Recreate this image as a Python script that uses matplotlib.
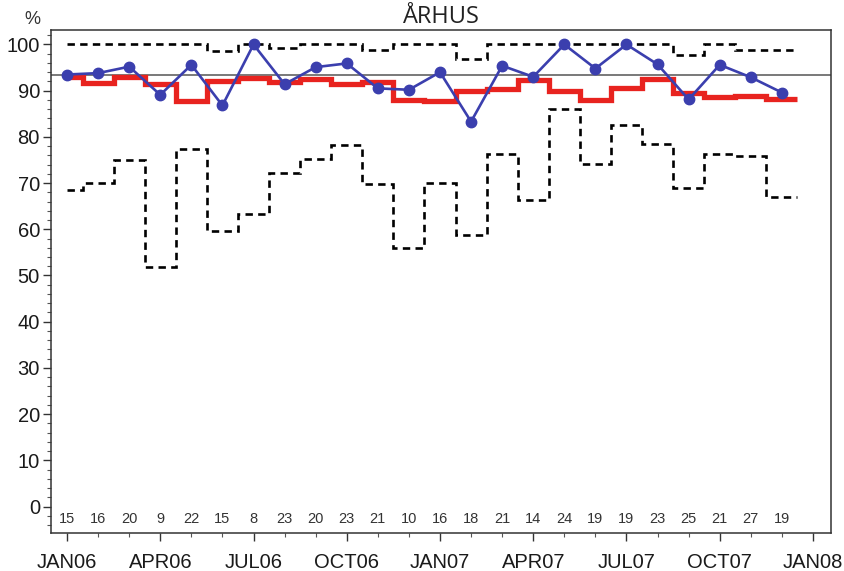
## Monthly percentage chart for ARHUS, with limits and patient counts
import numpy as np
import matplotlib.pyplot as plt
from matplotlib.ticker import MultipleLocator

## Data (month index 0 = JAN06)
months = np.arange(24)
observed = [93.5, 93.8, 95.2, 89.1, 95.6, 86.8, 100.0, 91.4, 95.1, 95.9, 90.5, 90.2,
            94.0, 83.3, 95.4, 93.0, 100.0, 94.8, 100.0, 95.7, 88.1, 95.6, 92.9, 89.6]
expected = [93.0, 91.6, 93.0, 91.4, 87.8, 92.1, 92.7, 91.9, 92.5, 91.4, 91.9, 88.0,
            87.7, 90.0, 90.3, 92.3, 89.9, 88.0, 90.5, 92.5, 89.6, 88.6, 88.9, 88.1]
upper = [100, 100, 100, 100, 100, 98.6, 100, 99.2, 100, 100, 98.9, 100,
         100, 96.8, 100, 100, 100, 100, 100, 100, 97.8, 100, 98.9, 98.9]
lower = [68.4, 70.1, 75.1, 51.9, 77.3, 59.7, 63.3, 72.1, 75.3, 78.2, 69.8, 55.9,
         70.0, 58.8, 76.4, 66.3, 86.0, 74.1, 82.6, 78.5, 68.9, 76.4, 75.8, 66.9]
counts = [15, 16, 20, 9, 22, 15, 8, 23, 20, 23, 21, 10,
          16, 18, 21, 14, 24, 19, 19, 23, 25, 21, 27, 19]
overall = 93.5
tick_labels = ['JAN06', 'APR06', 'JUL06', 'OCT06', 'JAN07',
               'APR07', 'JUL07', 'OCT07', 'JAN08']

plt.rcParams['font.family'] = ['Liberation Sans Narrow', 'Liberation Sans']

fig = plt.figure(figsize=(8.45, 5.71), dpi=100)
ax = fig.add_axes([0.0604, 0.0657, 0.923, 0.8818])

# step edges half way between months
edges = np.concatenate([[months[0]], months[:-1] + 0.5, [months[-1] + 0.5]])

ax.axhline(overall, color='#6e6e6e', lw=1.3, zorder=1)
ax.stairs(upper, edges, color='black', lw=1.9, ls=(0, (2.8, 2.0)), baseline=None, zorder=2)
ax.stairs(lower, edges, color='black', lw=1.9, ls=(0, (2.8, 2.0)), baseline=None, zorder=2)
ax.stairs(expected, edges, color='#e8231f', lw=3.8, baseline=None, zorder=3)
ax.plot(months, observed, color='#3b3fae', lw=1.9, marker='o', ms=7.5, zorder=4)

for m, c in zip(months, counts):
    ax.text(m, -2.7, str(c), ha='center', va='center', fontsize=10.5, color='#333333')

ax.set_xlim(-0.515, 24.58)
ax.set_ylim(-5.84, 103.14)

ax.set_xticks(np.arange(0, 25, 3))
ax.set_xticklabels(tick_labels, fontsize=14.5, color='#1a1a1a')
ax.xaxis.set_minor_locator(MultipleLocator(1))
ax.yaxis.set_major_locator(MultipleLocator(10))
ax.yaxis.set_minor_locator(MultipleLocator(2))
ax.tick_params(axis='y', labelsize=14.5, labelcolor='#1a1a1a', length=6, width=1,
               color='#333333', pad=2)
ax.tick_params(axis='x', length=6, width=1, color='#333333', pad=8)
ax.tick_params(which='minor', length=3, width=0.8, color='#555555')
for s in ax.spines.values():
    s.set_color('#333333')
    s.set_linewidth(1.1)

fig.text(0.522, 0.96, 'ÅRHUS', ha='center', va='baseline', fontsize=17,
         family='Open Sans', color='#222222')
fig.text(0.038, 0.965, '%', ha='center', va='center', fontsize=13, color='#333333')

fig.savefig('out.png', dpi=100)
